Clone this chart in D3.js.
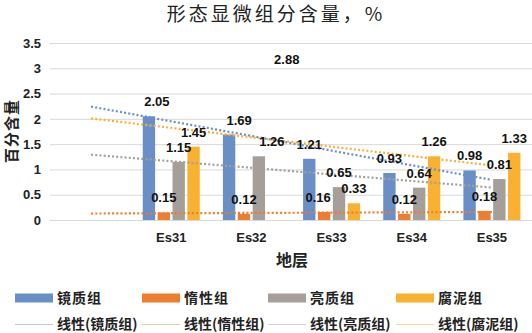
<!DOCTYPE html>
<html>
<head>
<meta charset="utf-8">
<script src="https://d3js.org/d3.v7.min.js"></script>
<style>
  body { margin: 0; background: #fff; }
  text { font-family: "Liberation Sans", Arial, sans-serif; }
  .cjk { font-family: "Noto Sans CJK SC", sans-serif; }
</style>
</head>
<body>
<div id="container"></div>
<script>
// 数据
var categories = ["", "Es31", "Es32", "Es33", "Es34", "Es35"];
var seriesNames = ["镜质组", "惰性组", "亮质组", "腐泥组"];
var jingzhi = [null, 2.05, 1.69, 1.21, 0.93, 0.98];
var duoxing = [null, 0.15, 0.12, 0.16, 0.12, 0.18];
var liangzhi = [null, 1.15, 1.26, 0.65, 0.64, 0.81];
var funi = [null, 1.45, 2.88, 0.33, 1.26, 1.33];
var yTicks = [0, 0.5, 1, 1.5, 2, 2.5, 3, 3.5];
var colors = ["#6a8fc6", "#ed7d31", "#a59e99", "#f8b131"];
var legendLineColors = ["#b9c9e6", "#f5c4a5", "#d3d0cd", "#f9d99a"];

// 原图中 Es32 的腐泥组柱子没有画出来, 只有标签
var hiddenBars = { "3|Es32": true };
// 标签的水平微调 (px)
var labelNudge = { "0|Es31": 8, "0|Es32": 10, "2|Es32": 13, "3|Es32": 13, "1|Es33": -6 };

var seriesValues = [jingzhi, duoxing, liangzhi, funi];

var svg_width = 532, svg_height = 333;
var svg = d3.select("#container").append("svg")
  .attr("width", svg_width).attr("height", svg_height);

var scale_x = d3.scaleBand().domain(categories).range([51, 532]);
var scale_s = d3.scaleBand().domain(d3.range(4)).range([-28.5, 28.5]).paddingInner(0.17);
var scale_y = d3.scaleLinear().domain([0, 3.5]).range([220, 43]);
var cx = function (c) { return scale_x(c) + scale_x.bandwidth() / 2; };

// 标题
svg.append("text").attr("class", "cjk")
  .attr("x", 276).attr("y", 21)
  .attr("text-anchor", "middle")
  .attr("font-size", 19).attr("letter-spacing", 3).attr("fill", "#222")
  .text("形态显微组分含量，%");

// 网格线 + y 轴
var axis_y = d3.axisLeft(scale_y).tickValues(yTicks).tickSize(-482).tickPadding(9)
  .tickFormat(d3.format(""));
var gy = svg.append("g").attr("transform", "translate(50,0)").call(axis_y);
gy.select(".domain").remove();
gy.selectAll(".tick line").attr("stroke", "#d9d9d9").attr("stroke-width", 1);
gy.selectAll(".tick text").attr("font-size", 13).attr("font-weight", "bold").attr("fill", "#222");

// y 轴标题
svg.append("text").attr("class", "cjk")
  .attr("transform", "translate(17,131) rotate(-90)")
  .attr("text-anchor", "middle")
  .attr("font-size", 15).attr("font-weight", "bold").attr("letter-spacing", 1).attr("fill", "#222")
  .text("百分含量");

// 柱子
var barData = [];
seriesValues.forEach(function (vals, s) {
  vals.forEach(function (v, i) {
    if (v === null) return;
    barData.push({ s: s, cat: categories[i], value: v });
  });
});

svg.append("g").selectAll("rect")
  .data(barData.filter(function (d) { return !hiddenBars[d.s + "|" + d.cat]; }))
  .enter().append("rect")
  .attr("x", function (d) { return cx(d.cat) + scale_s(d.s); })
  .attr("y", function (d) { return scale_y(d.value); })
  .attr("width", scale_s.bandwidth())
  .attr("height", function (d) { return scale_y(0) - scale_y(d.value); })
  .attr("fill", function (d) { return colors[d.s]; });

// 线性趋势线 (最小二乘, 以类别序号为 x)
var trendG = svg.append("g");
seriesValues.forEach(function (vals, s) {
  var pts = [];
  vals.forEach(function (v, i) { if (v !== null) pts.push([i, v]); });
  var mx = d3.mean(pts, function (p) { return p[0]; });
  var my = d3.mean(pts, function (p) { return p[1]; });
  var slope = d3.sum(pts, function (p) { return (p[0] - mx) * (p[1] - my); }) /
              d3.sum(pts, function (p) { return (p[0] - mx) * (p[0] - mx); });
  var f = function (i) { return my + slope * (i - mx); };
  var i0 = 0, i1 = categories.length - 1;
  trendG.append("line")
    .attr("x1", cx(categories[i0])).attr("y1", scale_y(f(i0)))
    .attr("x2", cx(categories[i1])).attr("y2", scale_y(f(i1)))
    .attr("stroke", colors[s]).attr("stroke-width", 2.2)
    .attr("stroke-dasharray", "2,2.2");
});

// 数据标签
svg.append("g").selectAll("text")
  .data(barData)
  .enter().append("text")
  .attr("x", function (d) {
    return cx(d.cat) + scale_s(d.s) + scale_s.bandwidth() / 2 + (labelNudge[d.s + "|" + d.cat] || 0);
  })
  .attr("y", function (d) { return scale_y(d.value) - 10; })
  .attr("text-anchor", "middle")
  .attr("font-size", 13).attr("font-weight", "bold").attr("fill", "#111")
  .text(function (d) { return d3.format(".2f")(d.value); });

// x 轴标签
svg.append("g").selectAll("text")
  .data(categories.filter(function (c) { return c; }))
  .enter().append("text")
  .attr("x", function (d) { return cx(d); })
  .attr("y", 242)
  .attr("text-anchor", "middle")
  .attr("font-size", 13).attr("font-weight", "bold").attr("fill", "#222")
  .text(function (d) { return d; });

svg.append("text").attr("class", "cjk")
  .attr("x", 292).attr("y", 266)
  .attr("text-anchor", "middle")
  .attr("font-size", 16).attr("font-weight", "bold").attr("fill", "#222")
  .text("地层");

// 图例
var legendX = [15, 142, 268, 396];
var leg = svg.append("g");
seriesNames.forEach(function (name, s) {
  leg.append("rect")
    .attr("x", legendX[s]).attr("y", 293.5)
    .attr("width", 38).attr("height", 9)
    .attr("fill", colors[s]);
  leg.append("text").attr("class", "cjk")
    .attr("x", legendX[s] + 42).attr("y", 303)
    .attr("font-size", 14).attr("font-weight", "bold").attr("letter-spacing", 1).attr("fill", "#222")
    .text(name);
  leg.append("line")
    .attr("x1", legendX[s]).attr("x2", legendX[s] + 38)
    .attr("y1", 324.5).attr("y2", 324.5)
    .attr("stroke", legendLineColors[s]).attr("stroke-width", 1);
  leg.append("text").attr("class", "cjk")
    .attr("x", legendX[s] + 42).attr("y", 329)
    .attr("font-size", 14).attr("font-weight", "bold").attr("fill", "#222")
    .text("线性(" + name + ")");
});
</script>
</body>
</html>
